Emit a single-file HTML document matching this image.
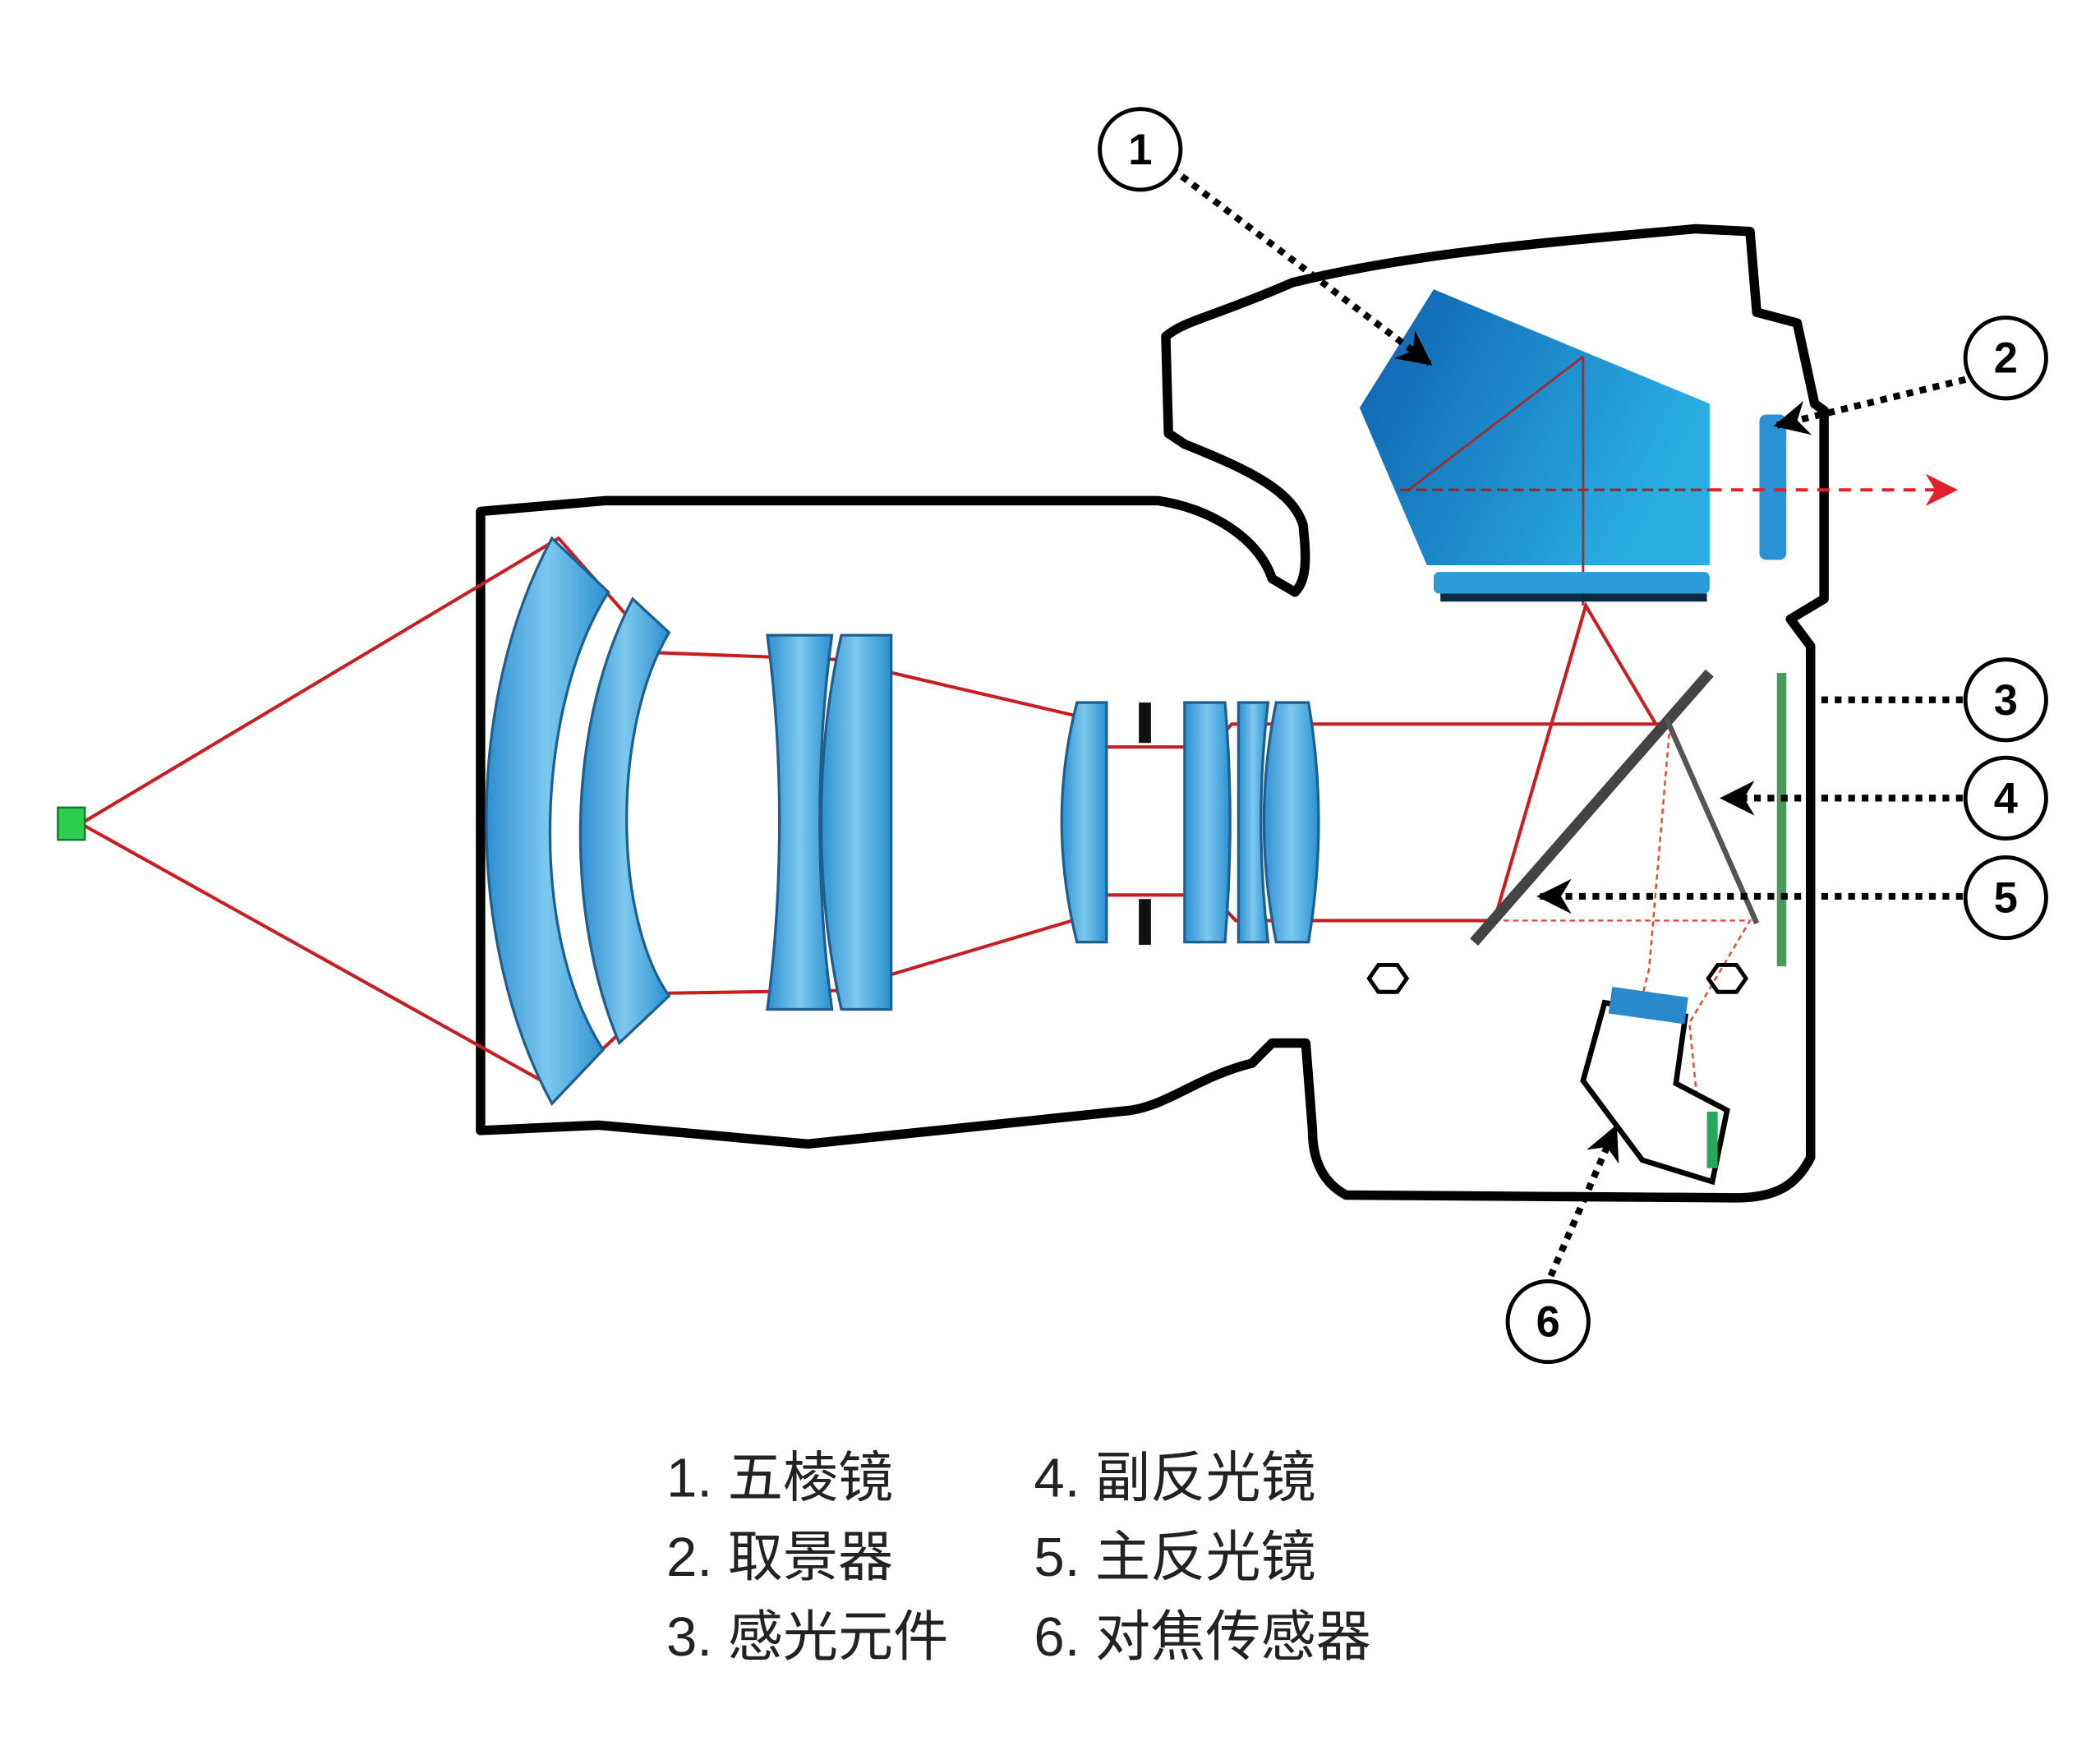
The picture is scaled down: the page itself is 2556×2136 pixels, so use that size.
<!DOCTYPE html>
<html><head><meta charset="utf-8"><style>
html,body{margin:0;padding:0;background:#fff;}
svg{display:block}
</style></head><body>
<svg width="2556" height="2136" viewBox="0 0 1560 1304" preserveAspectRatio="none" xmlns="http://www.w3.org/2000/svg">
<defs>
<linearGradient id="bl" x1="0" y1="0" x2="1" y2="0"><stop offset="0" stop-color="#2e8fd0"/><stop offset="0.5" stop-color="#7cc8ee"/><stop offset="1" stop-color="#2b8fcf"/></linearGradient>
<linearGradient id="pr" x1="0" y1="0" x2="1" y2="0.4"><stop offset="0" stop-color="#0e5fae"/><stop offset="1" stop-color="#2aaee2"/></linearGradient>
<marker id="ah" viewBox="0 0 10 10" refX="9" refY="5" markerWidth="26" markerHeight="26" markerUnits="userSpaceOnUse" orient="auto"><path d="M0,0 L10,5 L0,10 L3,5z" fill="#000"/></marker>
<marker id="rh" viewBox="0 0 10 10" refX="9" refY="5" markerWidth="24" markerHeight="24" markerUnits="userSpaceOnUse" orient="auto"><path d="M0,0 L10,5 L0,10 L3,5z" fill="#e0202a"/></marker>
</defs>
<rect width="1560" height="1304" fill="#fff"/>
<path d="M357,380 L450,372 L860,372 C900,378 935,400 945,430 L962,440 C972,430 970,410 968,390 C960,365 930,350 880,330 L868,322 L866,250 C880,238 900,236 960,210 C1050,188 1150,180 1260,170 L1300,172 L1305,232 L1335,240 L1348,300 L1355,305 L1355,445 L1330,460 L1345,480 L1345,860 C1335,880 1320,890 1290,890 L1000,888 C985,880 975,865 975,840 L970,775 L945,775 L930,790 C890,800 870,820 840,825 L600,850 L445,836 L357,840 Z" fill="none" stroke="#000" stroke-width="7" stroke-linejoin="round"/>
<g stroke="#c81e22" stroke-width="2.5" fill="none">
<path d="M60,612 L415,400 L490,485 L620,490 L800,532 L820,555 L900,555 L915,538 L1235,538"/>
<path d="M60,612 L415,810 L492,738 L622,736 L800,683 L822,665 L900,665 L918,684 L1110,684"/>
<path d="M1110,684 L1178,450 L1230,538"/>
</g>
<g stroke="#e04a3a" stroke-width="1.5" fill="none" stroke-dasharray="4,3">
<path d="M1240,545 L1225,720 L1210,780 L1265,850"/>
<path d="M1110,684 L1300,684 L1255,760 L1265,860"/>
</g>
<g stroke="#1f5f8f" stroke-width="2" fill="url(#bl)">
<path d="M410,400 L452,440 C400,520 390,690 448,780 L410,820 C345,700 345,520 410,400Z"/>
<path d="M470,445 L497,470 C455,540 455,680 497,740 L460,775 C420,680 420,540 470,445Z"/>
<path d="M570,472 L618,472 C606,560 606,660 618,750 L570,750 C582,660 582,560 570,472Z"/>
<path d="M625,472 L662,472 L662,750 L625,750 C605,660 605,560 625,472Z"/>
<path d="M800,522 L822,522 L822,700 L800,700 C785,640 785,580 800,522Z"/>
<path d="M880,522 L910,522 C915,580 915,640 910,700 L880,700Z"/>
<path d="M920,522 L942,522 C935,580 935,640 942,700 L920,700Z"/>
<path d="M948,522 L972,522 C982,580 982,640 972,700 L948,700 C936,640 936,580 948,522Z"/>
</g>
<rect x="846" y="522" width="9" height="30" fill="#111"/>
<rect x="846" y="668" width="9" height="34" fill="#111"/>
<polygon points="1065,215 1270,300 1270,420 1060,420 1010,303" fill="url(#pr)"/>
<g stroke="#a03030" stroke-width="1.8" fill="none">
<path d="M1176,265 L1176,450"/>
<path d="M1176,265 L1045,365"/>
</g>
<line x1="1040" y1="364" x2="1270" y2="364" stroke="#8a3030" stroke-width="2" stroke-dasharray="8,4"/>
<rect x="1065" y="425" width="205" height="16" rx="4" fill="#2a9ad8"/>
<rect x="1070" y="441" width="198" height="6" fill="#0d2a45"/>
<rect x="1307" y="308" width="20" height="108" rx="5" fill="#2a92d4"/>
<line x1="1270" y1="364" x2="1452" y2="364" stroke="#e0202a" stroke-width="2.5" stroke-dasharray="9,7" marker-end="url(#rh)"/>
<line x1="1095" y1="700" x2="1270" y2="500" stroke="#444" stroke-width="8"/>
<line x1="1238" y1="534" x2="1305" y2="686" stroke="#555" stroke-width="4"/>
<rect x="1320" y="500" width="7" height="218" fill="#4a9a5a"/>
<path d="M1192,745 L1252,755 L1245,805 L1283,825 L1272,878 L1220,862 L1176,803Z" fill="#fff" stroke="#000" stroke-width="4"/>
<rect x="1196" y="737" width="57" height="20" fill="#2a88cc" transform="rotate(8 1224 747)"/>
<rect x="1268" y="826" width="8" height="42" fill="#2aa85a"/>
<g fill="none" stroke="#000" stroke-width="3"><polygon points="1024,717 1038,717 1045,727 1038,737 1024,737 1017,727"/><polygon points="1276,717 1290,717 1297,727 1290,737 1276,737 1269,727"/></g>
<rect x="43" y="600" width="20" height="24" fill="#2ecc50" stroke="#127a2a" stroke-width="1.5"/>
<g stroke="#000" stroke-width="5" stroke-dasharray="5,5" fill="none">
<path d="M870,125 L1062,270" marker-end="url(#ah)"/>
<path d="M1460,282 L1320,316" marker-end="url(#ah)"/>
<path d="M1458,520 L1340,520"/>
<path d="M1458,593 L1280,593" marker-end="url(#ah)"/>
<path d="M1458,666 L1144,666" marker-end="url(#ah)"/>
<path d="M1152,948 L1200,838" marker-end="url(#ah)"/>
</g>
<g fill="#fff" stroke="#000" stroke-width="3">
<circle cx="847" cy="111" r="30"/><circle cx="1490" cy="266" r="30"/><circle cx="1490" cy="520" r="30"/>
<circle cx="1490" cy="593" r="30"/><circle cx="1490" cy="667" r="30"/><circle cx="1150" cy="982" r="30"/>
</g>
<g font-family="Liberation Sans, sans-serif" font-size="32" font-weight="bold" text-anchor="middle">
<text x="847" y="122">1</text><text x="1490" y="277">2</text><text x="1490" y="531">3</text>
<text x="1490" y="604">4</text><text x="1490" y="678">5</text><text x="1150" y="993">6</text>
</g>
<g font-family="Liberation Sans, 'Noto Sans CJK SC', sans-serif" font-size="41" fill="#222">
<text x="495" y="1112">1. 五棱镜</text>
<text x="495" y="1171">2. 取景器</text>
<text x="495" y="1230">3. 感光元件</text>
<text x="768" y="1112">4. 副反光镜</text>
<text x="768" y="1171">5. 主反光镜</text>
<text x="768" y="1230">6. 对焦传感器</text>
</g>
</svg>
</body></html>
